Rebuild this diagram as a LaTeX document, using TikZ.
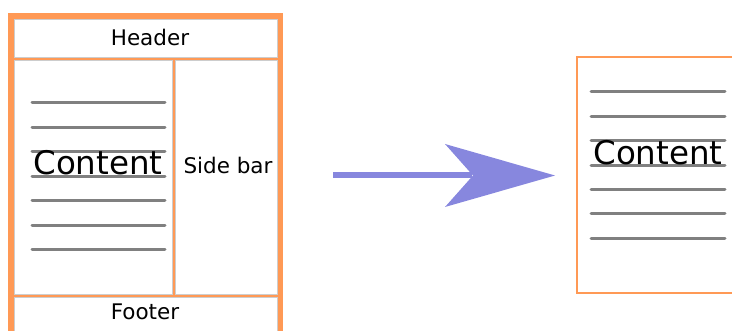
\documentclass[tikz,border=0pt]{standalone}
\usepackage{fontspec}
\setmainfont{DejaVu Sans}
\definecolor{frameorange}{RGB}{255,153,85}
\definecolor{linegray}{RGB}{128,128,128}
\definecolor{arrowblue}{RGB}{135,135,222}
\definecolor{boxedge}{RGB}{205,205,205}
\tikzset{
  panel/.style={fill=white, draw=boxedge, line width=0.8pt},
  textline/.style={draw=linegray, line width=3pt, line cap=round},
  label/.style={anchor=base, inner sep=0pt, font=\fontsize{21.5}{24}\selectfont},
  biglabel/.style={anchor=base, inner sep=0pt, font=\fontsize{32.5}{36}\selectfont},
}
\begin{document}
\begin{tikzpicture}[x=1pt,y=-1pt]
\useasboundingbox (0,0) rectangle (732,331);
\clip (0,0) rectangle (732,331);

% page layout with header, content, side bar and footer
\fill[frameorange] (8,13) rectangle (283,345);
\draw[panel] (14,19) rectangle (277,57);
\draw[panel] (14,60) rectangle (172.5,294);
\draw[panel] (175.5,60) rectangle (277,294);
\draw[panel] (14,297) rectangle (277,345);

\foreach \y in {103,127.5,152,176.5,201,225.5,250}
  \draw[textline] (32,\y) -- (165,\y);

\node[label] (header) at (150,46) {Header};
\node[biglabel] (content) at (98,175) {Content};
\node[label] (sidebar) at (228,174) {Side bar};
\node[label] (footer) at (145,320) {Footer};

% transformation arrow
\coordinate (arrowstart) at (333,175.5);
\coordinate (arrowtip) at (555,175.5);
\draw[draw=arrowblue, line width=6pt] (arrowstart) -- (472,175.5);
\fill[arrowblue] (arrowtip) -- (445,144) -- (473,175.5) -- (445,207) -- cycle;

% single content page
\draw[panel, draw=frameorange, line width=2.5pt] (577,57) rectangle (745,293);
\foreach \y in {92,117,141,166,190,214,239}
  \draw[textline] (591,\y) -- (725,\y);
\node[biglabel] (content2) at (658,165) {Content};
\end{tikzpicture}
\end{document}
